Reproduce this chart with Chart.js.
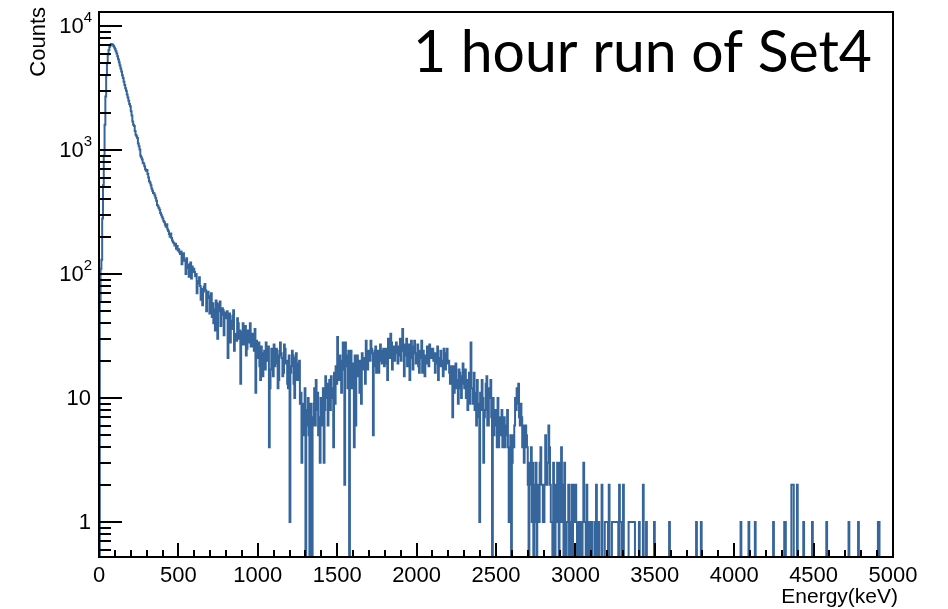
<!DOCTYPE html>
<html>
<head>
<meta charset="utf-8">
<title>1 hour run of Set4</title>
<script src="https://cdn.jsdelivr.net/npm/chart.js@4.4.1/dist/chart.umd.min.js"></script>
<style>
    html, body { margin: 0; padding: 0; background: #fff; }
    #wrap { width: 948px; height: 609px; }
</style>
</head>
<body>
<div id="wrap"><canvas id="spectrum" width="948" height="609"></canvas></div>
<script>
// energy histogram, 5 keV bins from 0 to 5000 keV (one row = 100 keV)
const binWidth = 5;
const counts = [
    0, 60, 110, 130, 280, 520, 900, 1600, 2700, 4000, 5000, 5900, 6400, 6800, 7000, 7150, 7100, 7050, 6900, 6700,
    6500, 6250, 6000, 5700, 5400, 5100, 4800, 4550, 4300, 4000, 3800, 3550, 3350, 3150, 3000, 2800, 2650, 2500, 2350, 2250,
    2050, 1900, 1700, 1600, 1560, 1420, 1330, 1290, 1250, 1130, 1070, 1010, 900, 870, 840, 790, 780, 740, 700, 680,
    690, 640, 600, 560, 545, 520, 490, 470, 450, 445, 430, 410, 390, 360, 352, 340, 330, 310, 300, 290,
    280, 268, 262, 250, 240, 252, 230, 222, 210, 200, 212, 195, 186, 180, 177, 170, 175, 160, 168, 155,
    158, 150, 145, 152, 120, 133, 147, 128, 130, 100, 134, 118, 112, 95, 120, 124, 92, 115, 104, 110,
    104, 96, 100, 70, 88, 84, 94, 80, 62, 76, 56, 72, 79, 83, 74, 50, 64, 72, 66, 48,
    62, 70, 45, 58, 40, 52, 35, 61, 58, 30, 50, 57, 60, 38, 47, 53, 51, 32, 45, 49,
    44, 50, 21, 38, 48, 28, 42, 36, 46, 51, 24, 32, 33, 29, 44, 40, 30, 35, 13, 27,
    34, 40, 27, 31, 38, 22, 25, 35, 33, 28, 40, 26, 26, 33, 31, 24, 36, 11, 29, 21,
    22, 28, 18, 14, 26, 20, 15, 23, 24, 17, 28, 21, 20, 26, 4, 12, 17, 25, 23, 15,
    27, 18, 19, 25, 24, 12, 14, 22, 28, 23, 21, 15, 16, 27, 25, 19, 20, 13, 12, 22,
    1, 16, 18, 24, 22, 13, 10, 21, 23, 14, 14, 19, 20, 9, 11, 3, 9, 5, 7, 12,
    0, 8, 6, 10, 5, 0, 9, 7, 0, 6, 9, 12, 6, 14, 8, 11, 5, 7, 3, 10,
    10, 6, 12, 3, 8, 15, 10, 13, 6, 9, 14, 8, 15, 10, 12, 4, 16, 9, 18, 13,
    31, 20, 14, 22, 20, 11, 17, 28, 17, 2, 28, 18, 22, 12, 24, 0, 16, 24, 12, 19,
    18, 4, 22, 6, 16, 22, 15, 20, 11, 20, 9, 23, 17, 21, 19, 13, 29, 24, 17, 22,
    24, 20, 29, 25, 23, 5, 18, 24, 26, 16, 20, 24, 16, 20, 27, 22, 19, 24, 25, 18,
    19, 25, 21, 14, 30, 26, 21, 33, 28, 17, 23, 26, 20, 23, 28, 24, 19, 26, 22, 30,
    20, 27, 36, 24, 15, 27, 22, 30, 18, 25, 27, 14, 25, 29, 21, 17, 26, 29, 23, 19,
    22, 27, 18, 16, 24, 21, 29, 16, 24, 20, 15, 22, 19, 26, 22, 18, 27, 23, 21, 25,
    25, 20, 23, 16, 23, 19, 26, 14, 21, 18, 24, 20, 18, 15, 25, 21, 17, 23, 25, 19,
    20, 16, 13, 18, 17, 7, 18, 11, 15, 19, 12, 14, 9, 17, 16, 12, 10, 15, 19, 13,
    12, 17, 10, 14, 8, 13, 16, 9, 28, 12, 12, 9, 16, 8, 11, 6, 14, 9, 7, 1,
    11, 8, 14, 10, 3, 7, 8, 13, 15, 6, 6, 12, 10, 14, 7, 0, 10, 5, 8, 6,
    8, 4, 10, 4, 7, 6, 5, 8, 4, 6, 7, 4, 6, 5, 8, 4, 1, 3, 5, 0,
    3, 5, 4, 6, 10, 8, 12, 9, 13, 7, 6, 9, 7, 4, 6, 3, 4, 6, 5, 4,
    2, 0, 3, 2, 4, 1, 3, 0, 2, 1, 3, 0, 2, 1, 1, 3, 4, 2, 2, 1,
    1, 2, 5, 3, 2, 3, 6, 4, 2, 1, 1, 0, 3, 2, 0, 1, 2, 3, 1, 0,
    3, 1, 4, 2, 1, 0, 3, 1, 0, 1, 1, 2, 0, 0, 1, 2, 0, 1, 2, 1,
    2, 1, 0, 0, 1, 0, 1, 0, 0, 1, 3, 1, 1, 0, 2, 1, 0, 0, 1, 0,
    1, 0, 0, 0, 1, 0, 2, 0, 0, 1, 0, 0, 0, 2, 0, 0, 0, 1, 1, 1,
    1, 0, 2, 0, 0, 0, 1, 1, 1, 1, 1, 1, 1, 1, 0, 2, 1, 1, 0, 0,
    2, 0, 0, 0, 0, 0, 0, 1, 1, 1, 1, 1, 1, 1, 1, 0, 0, 0, 0, 0,
    1, 0, 0, 0, 0, 2, 0, 0, 0, 1, 0, 0, 0, 0, 0, 0, 0, 0, 0, 1,
    0, 0, 0, 0, 0, 0, 0, 0, 0, 0, 0, 0, 0, 0, 0, 0, 0, 0, 1, 0,
    0, 0, 0, 0, 0, 0, 0, 0, 0, 0, 0, 0, 0, 0, 0, 0, 0, 0, 0, 0,
    0, 0, 0, 0, 0, 0, 0, 0, 0, 0, 0, 0, 1, 0, 0, 0, 0, 0, 1, 0,
    0, 0, 0, 0, 0, 0, 0, 0, 0, 0, 0, 0, 0, 0, 0, 0, 0, 0, 0, 0,
    0, 0, 0, 0, 0, 0, 0, 0, 0, 0, 0, 0, 0, 0, 0, 0, 0, 0, 0, 0,
    0, 0, 0, 0, 0, 0, 0, 0, 1, 0, 0, 0, 0, 0, 0, 0, 0, 0, 1, 0,
    0, 0, 0, 0, 0, 0, 1, 0, 0, 0, 0, 0, 0, 0, 0, 0, 0, 0, 0, 0,
    0, 0, 0, 0, 0, 0, 0, 0, 0, 1, 0, 0, 0, 0, 0, 0, 0, 0, 0, 0,
    0, 0, 0, 1, 1, 0, 0, 0, 0, 0, 0, 0, 2, 2, 2, 0, 0, 0, 0, 2,
    0, 0, 0, 0, 0, 0, 0, 1, 0, 0, 0, 0, 0, 0, 0, 0, 0, 0, 1, 0,
    0, 0, 0, 0, 0, 0, 0, 0, 0, 0, 0, 0, 0, 0, 0, 0, 1, 0, 0, 0,
    0, 0, 0, 0, 0, 0, 0, 0, 0, 0, 0, 0, 0, 0, 0, 0, 0, 0, 0, 0,
    0, 0, 0, 0, 1, 0, 0, 0, 0, 0, 0, 0, 0, 0, 0, 0, 1, 0, 0, 0,
    0, 0, 0, 0, 0, 0, 0, 0, 0, 0, 0, 0, 0, 0, 0, 0, 0, 0, 0, 0,
    0, 1, 1, 0, 0, 0, 0, 0, 0, 0, 0, 0, 0, 0, 0, 0, 0, 0, 0, 0
];

const xTickValues = [0, 500, 1000, 1500, 2000, 2500, 3000, 3500, 4000, 4500, 5000];
const xTickLabels = ['0', '500', '1000', '1500', '2000', '2500', '3000', '3500', '4000', '4500', '5000'];
const yTickValues = [1, 10, 100, 1000, 10000];
const yTickBase = ['1', '10', '10', '10', '10'];
const yTickExp = ['', '', '2', '3', '4'];

const titleText = '1 hour run of Set4';
const xTitle = 'Energy(keV)';
const yTitle = 'Counts';

const lineColor = '#36659b';
const labelFont = 'Liberation Sans, Arial, Helvetica, sans-serif';
const zeroFloor = 0.1; // empty bins drop below the axis, like ROOT

// left bin edges + closing point at the upper edge
const points = counts.map((c, i) => ({ x: i * binWidth, y: c > 0 ? c : zeroFloor }));
points.push({ x: counts.length * binWidth, y: points[points.length - 1].y });

const rootFrame = {
    id: 'rootFrame',
    afterDatasetsDraw(chart) {
        const { ctx, chartArea: a, scales } = chart;
        const xs = scales.x, ys = scales.y;
        ctx.save();
        ctx.strokeStyle = '#000';
        ctx.fillStyle = '#000';

        // ticks, drawn inside the frame
        ctx.lineWidth = 2;
        ctx.beginPath();
        for (let e = 0; e <= 5000; e += 100) {
            const px = Math.round(xs.getPixelForValue(e));
            const len = e % 500 === 0 ? 14 : 7;
            ctx.moveTo(px, a.bottom);
            ctx.lineTo(px, a.bottom - len);
        }
        for (let d = -1; d <= 4; d++) {
            for (let m = 1; m <= 9; m++) {
                const v = m * Math.pow(10, d);
                if (v < ys.min || v > ys.max) continue;
                const py = Math.round(ys.getPixelForValue(v));
                const len = m === 1 ? 23 : 12;
                ctx.moveTo(a.left, py);
                ctx.lineTo(a.left + len, py);
            }
        }
        ctx.stroke();

        // frame
        ctx.lineWidth = 2;
        ctx.strokeRect(a.left, a.top, a.right - a.left, a.bottom - a.top);

        // x labels
        ctx.font = '22px ' + labelFont;
        ctx.textAlign = 'center';
        ctx.textBaseline = 'alphabetic';
        xTickValues.forEach((v, i) => {
            ctx.fillText(xTickLabels[i], xs.getPixelForValue(v), 582);
        });

        // y labels with superscript exponents
        yTickValues.forEach((v, i) => {
            const py = ys.getPixelForValue(v);
            const exp = yTickExp[i];
            ctx.textBaseline = 'middle';
            ctx.textAlign = 'right';
            if (exp) {
                ctx.font = '15px ' + labelFont;
                const ew = ctx.measureText(exp).width;
                ctx.fillText(exp, 92, py - 8);
                ctx.font = '22px ' + labelFont;
                ctx.fillText(yTickBase[i], 92 - ew, py + 1);
            } else {
                ctx.font = '22px ' + labelFont;
                ctx.fillText(yTickBase[i], 91, py + 1);
            }
        });

        // axis titles
        ctx.textBaseline = 'alphabetic';
        ctx.font = '21px ' + labelFont;
        ctx.textAlign = 'right';
        ctx.fillText(xTitle, 898, 603);
        ctx.font = '22px ' + labelFont;
        ctx.save();
        ctx.translate(45, 7);
        ctx.rotate(-Math.PI / 2);
        ctx.textAlign = 'right';
        ctx.fillText(yTitle, 0, 0);
        ctx.restore();

        // big title inside the frame
        ctx.textAlign = 'left';
        ctx.font = '100px Lato, "Open Sans", sans-serif';
        const w100 = ctx.measureText(titleText).width;
        const size = 100 * 459 / w100;
        ctx.font = size.toFixed(1) + 'px Lato, "Open Sans", sans-serif';
        ctx.fillText(titleText, 413, 72);

        ctx.restore();
    }
};

new Chart(document.getElementById('spectrum'), {
    type: 'line',
    data: {
        datasets: [{
            label: yTitle,
            data: points,
            borderColor: lineColor,
            borderWidth: 2,
            pointRadius: 0,
            fill: false,
            stepped: 'before',
            tension: 0,
            clip: 0
        }]
    },
    options: {
        responsive: false,
        animation: false,
        devicePixelRatio: 1,
        layout: { padding: { left: 99, right: 55, top: 12, bottom: 52 } },
        plugins: { legend: { display: false }, tooltip: { enabled: false } },
        scales: {
            x: { type: 'linear', min: 0, max: 5000, display: false },
            y: { type: 'logarithmic', min: 0.522, max: 12970, display: false }
        }
    },
    plugins: [rootFrame]
});
</script>
</body>
</html>
